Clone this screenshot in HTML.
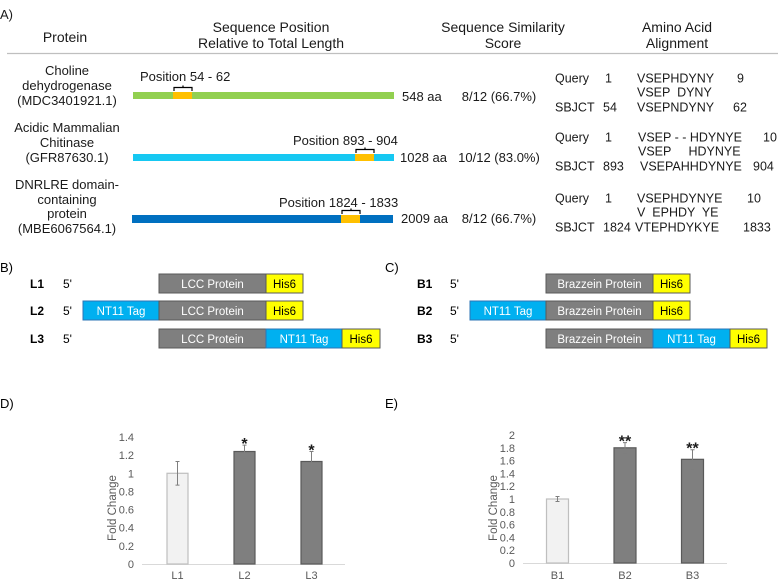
<!DOCTYPE html>
<html><head><meta charset="utf-8">
<style>
html,body{margin:0;padding:0;background:#fff;}
svg{display:block;font-family:"Liberation Sans",Arial,sans-serif;}
</style></head>
<body>
<svg id="fig" width="778" height="580" viewBox="0 0 778 580">
<g font-size="13" fill="#1a1a1a">
  <text x="0" y="19" font-size="13">A)</text>
  <text x="65" y="42" text-anchor="middle" font-size="14">Protein</text>
  <text x="271" y="32" text-anchor="middle" font-size="14">Sequence Position</text>
  <text x="271" y="48" text-anchor="middle" font-size="14">Relative to Total Length</text>
  <text x="503" y="32" text-anchor="middle" font-size="14">Sequence Similarity</text>
  <text x="503" y="48" text-anchor="middle" font-size="14">Score</text>
  <text x="677" y="32" text-anchor="middle" font-size="14">Amino Acid</text>
  <text x="677" y="48" text-anchor="middle" font-size="14">Alignment</text>
  <line x1="7" y1="53.5" x2="778" y2="53.5" stroke="#bfbfbf" stroke-width="1.2"/>

  <g>
    <text x="67" y="75" text-anchor="middle">Choline</text>
    <text x="67" y="90" text-anchor="middle">dehydrogenase</text>
    <text x="67" y="105" text-anchor="middle">(MDC3401921.1)</text>
    <text x="140" y="81">Position 54 - 62</text>
    <path d="M174 91 V87.5 H192 V91 M183 87.5 V85.5" fill="none" stroke="#000" stroke-width="1.2"/>
    <rect x="133" y="92" width="261" height="7" fill="#92d050"/>
    <rect x="173" y="92" width="19" height="7" fill="#ffc000"/>
    <text x="402" y="101">548 aa</text>
    <text x="499" y="101" text-anchor="middle">8/12 (66.7%)</text>
    <g font-size="12.5">
      <text x="555" y="82.5">Query</text><text x="605" y="82.5">1</text><text x="637" y="82.5">VSEPHDYNY</text><text x="737" y="82.5">9</text>
      <text x="637" y="96.5" xml:space="preserve">VSEP  DYNY</text>
      <text x="555" y="111.5">SBJCT</text><text x="603" y="111.5">54</text><text x="637" y="111.5">VSEPNDYNY</text><text x="733" y="111.5">62</text>
    </g>
  </g>
  <g>
    <text x="67" y="132" text-anchor="middle">Acidic Mammalian</text>
    <text x="67" y="147" text-anchor="middle">Chitinase</text>
    <text x="67" y="162" text-anchor="middle">(GFR87630.1)</text>
    <text x="293" y="145">Position 893 - 904</text>
    <path d="M356 153 V149.5 H374 V153 M365 149.5 V147.5" fill="none" stroke="#000" stroke-width="1.2"/>
    <rect x="133" y="154" width="261" height="7" fill="#16c8f2"/>
    <rect x="355" y="154" width="19" height="7" fill="#ffc000"/>
    <text x="400" y="162">1028 aa</text>
    <text x="499" y="162" text-anchor="middle">10/12 (83.0%)</text>
    <g font-size="12.5">
      <text x="555" y="141.5">Query</text><text x="605" y="141.5">1</text><text x="638" y="141.5">VSEP - - HDYNYE</text><text x="763" y="141.5">10</text>
      <text x="638" y="155.5" xml:space="preserve">VSEP     HDYNYE</text>
      <text x="555" y="170.5">SBJCT</text><text x="603" y="170.5">893</text><text x="640" y="170.5">VSEPAHHDYNYE</text><text x="753" y="170.5">904</text>
    </g>
  </g>
  <g>
    <text x="67" y="189" text-anchor="middle">DNRLRE domain-</text>
    <text x="67" y="204" text-anchor="middle">containing</text>
    <text x="67" y="218" text-anchor="middle">protein</text>
    <text x="67" y="233" text-anchor="middle">(MBE6067564.1)</text>
    <text x="279" y="207">Position 1824 - 1833</text>
    <path d="M342 214 V210.5 H360 V214 M351 210.5 V208.5" fill="none" stroke="#000" stroke-width="1.2"/>
    <rect x="132" y="215" width="261" height="8" fill="#0070c0"/>
    <rect x="341" y="215" width="19" height="8" fill="#ffc000"/>
    <text x="401" y="223">2009 aa</text>
    <text x="499" y="223" text-anchor="middle">8/12 (66.7%)</text>
    <g font-size="12.5">
      <text x="555" y="202.5">Query</text><text x="605" y="202.5">1</text><text x="637" y="202.5">VSEPHDYNYE</text><text x="747" y="202.5">10</text>
      <text x="637" y="216.5" xml:space="preserve">V  EPHDY  YE</text>
      <text x="555" y="231.5">SBJCT</text><text x="603" y="231.5">1824</text><text x="635" y="231.5">VTEPHDYKYE</text><text x="743" y="231.5">1833</text>
    </g>
  </g>
</g>

<g font-size="11">
  <text x="0" y="272" font-size="13">B)</text>
  <text x="385" y="272" font-size="13">C)</text>
</g>
<g id="constructs"></g>

<g>
  <text x="0" y="408" font-size="13">D)</text>
  <text x="385" y="408" font-size="13">E)</text>
</g>
<g id="chartD"></g>
<g id="chartE"></g>
</svg>
<script>
const NS="http://www.w3.org/2000/svg";
function mk(tag,attrs,parent,txt){const e=document.createElementNS(NS,tag);for(const k in attrs)e.setAttribute(k,attrs[k]);if(txt!==undefined)e.textContent=txt;parent.appendChild(e);return e;}

const cons=document.getElementById('constructs');
const segColors={gray:['#7f7f7f','#595959','#fff'],cyan:['#00b0f0','#2e75b6','#fff'],yellow:['#ffff00','#595959','#000']};
const rowsL=[
 {label:'L1',y:274,segs:[['LCC Protein',159,107,'gray'],['His6',266,37,'yellow']]},
 {label:'L2',y:301,segs:[['NT11 Tag',83,76,'cyan'],['LCC Protein',159,107,'gray'],['His6',266,37,'yellow']]},
 {label:'L3',y:329,segs:[['LCC Protein',159,107,'gray'],['NT11 Tag',266,76,'cyan'],['His6',342,38,'yellow']]}];
const rowsB=[
 {label:'B1',y:274,segs:[['Brazzein Protein',546,107,'gray'],['His6',653,37,'yellow']]},
 {label:'B2',y:301,segs:[['NT11 Tag',470,76,'cyan'],['Brazzein Protein',546,107,'gray'],['His6',653,37,'yellow']]},
 {label:'B3',y:329,segs:[['Brazzein Protein',546,107,'gray'],['NT11 Tag',653,77,'cyan'],['His6',730,37,'yellow']]}];
function drawRows(rows,lx){
 rows.forEach(r=>{
  const g=mk('g',{},cons);
  
  
  mk('text',{x:lx,y:r.y+14,'font-size':12,'font-weight':'bold'},g,r.label);
  mk('text',{x:lx+33,y:r.y+14,'font-size':12},g,"5'");
  r.segs.forEach(s=>{
   const c=segColors[s[3]];
   const rc=mk('rect',{x:s[1],y:r.y,width:s[2],height:19,fill:c[0],stroke:c[1],'stroke-width':1},g);
   
   
   mk('text',{x:s[1]+s[2]/2,y:r.y+14,'text-anchor':'middle','font-size':11.5,fill:c[2]},g,s[0]);
  });
 });
}
drawRows(rowsL,30);drawRows(rowsB,417);

const catsD=['L1','L2','L3'];
const valsD=[1.0,1.24,1.13];
const errD=[0.13,0.07,0.11];
const sigD=['','*','*'];
const ticksD=['0','0.2','0.4','0.6','0.8','1','1.2','1.4'];
const catsE=['B1','B2','B3'];
const valsE=[1.0,1.8,1.62];
const errE=[0.04,0.08,0.15];
const sigE=['','**','**'];
const ticksE=['0','0.2','0.4','0.6','0.8','1','1.2','1.4','1.6','1.8','2'];

function chart(id,cats,vals,errs,sig,ticks,o){
 const g=document.getElementById(id);
 const ymax=parseFloat(ticks[ticks.length-1]);
 const y=v=>o.y0-(v/ymax)*(o.y0-o.y1);
 const x=i=>o.c0+i*o.step;
 ticks.forEach(t=>{
  const tx=mk('text',{x:o.tx,y:y(parseFloat(t))+4,'text-anchor':'end','font-size':11,fill:'#595959'},g,t);
  
  
 });
 const ax=mk('line',{x1:o.ax0,x2:o.ax1,y1:o.y0+0.5,y2:o.y0+0.5,stroke:'#d9d9d9','stroke-width':1},g);
 
 
 const tt=mk('text',{x:o.ttx,y:508,transform:`rotate(-90 ${o.ttx} 508)`,'text-anchor':'middle','font-size':11.5,fill:'#595959'},g,'Fold Change');
 
 
 cats.forEach((c,i)=>{
  const first=i===0;
  const b=mk('rect',{x:x(i)-o.bw/2,y:y(vals[i]),width:o.bw,height:o.y0-y(vals[i]),fill:first?'#f2f2f2':'#7f7f7f',stroke:first?'#bfbfbf':'#595959','stroke-width':1.2},g);
  
  
  const eh=y(vals[i]+errs[i]),el=y(vals[i]-errs[i]);
  const e=mk('path',{d:`M${x(i)} ${eh} V${el} M${x(i)-2} ${eh} H${x(i)+2} M${x(i)-2} ${el} H${x(i)+2}`,stroke:'#7f7f7f','stroke-width':1,fill:'none'},g);
  
  
  const l=mk('text',{x:x(i),y:579,'text-anchor':'middle','font-size':11,fill:'#595959'},g,c);
  
  
  if(sig[i]){
   const s=mk('text',{x:x(i),y:eh+4,'text-anchor':'middle','font-size':16,'font-weight':'bold',fill:'#1a1a1a'},g,sig[i]);
   
   
  }
 });
}
chart('chartD',catsD,valsD,errD,sigD,ticksD,{y0:564,y1:437,c0:177.5,step:67,bw:21,tx:134,ax0:142,ax1:345,ttx:116});
chart('chartE',catsE,valsE,errE,sigE,ticksE,{y0:563,y1:435,c0:557.5,step:67.5,bw:22,tx:515,ax0:523,ax1:727,ttx:497});
</script>
</body></html>
